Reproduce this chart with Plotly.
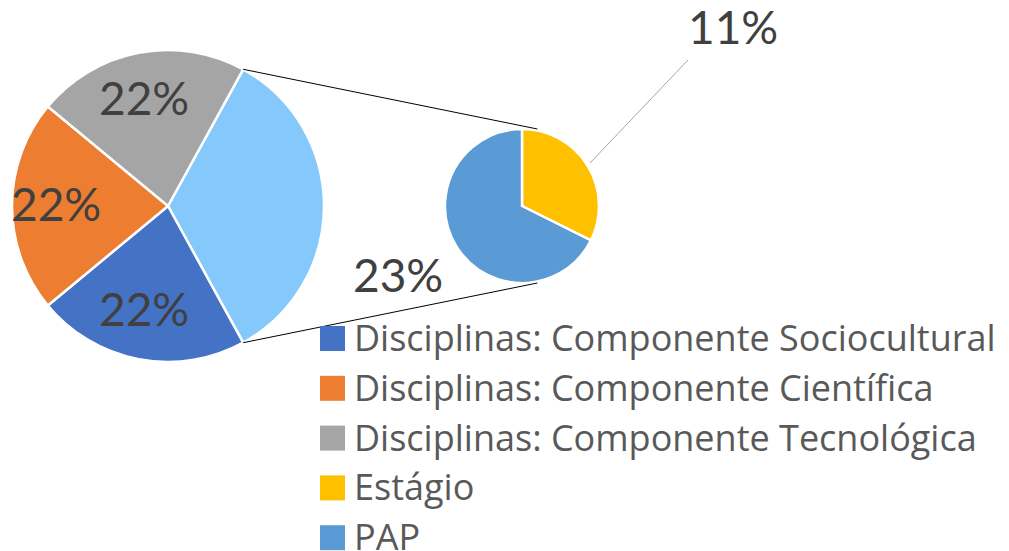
import math
import plotly.graph_objects as go

# ---- data ----
labels = ["Disciplinas: Componente Sociocultural",
          "Disciplinas: Componente Científica",
          "Disciplinas: Componente Tecnológica",
          "Estágio",
          "PAP"]
values = [22, 22, 22, 11, 23]
pct_labels = ["22%", "22%", "22%", "11%", "23%"]
colors = ["#4472C4", "#ED7D31", "#A5A5A5", "#FFC000", "#5B9BD5"]
other_color = "#85C8FC"

# ---- geometry (pixels) ----
W, H = 1009, 551
main_c = (168, 206)
main_R = 156
sub_c = (522, 206)
sub_R = 77
FONT = "Lato"
LEGEND_FONT = "Open Sans"
LABEL_SIZE = 46
LEGEND_SIZE = 36


def px(x):
    return x / W


def py(y):
    return 1 - y / H


other = values[3] + values[4]
main_vals = [other] + values[:3]
main_cols = [other_color] + colors[:3]
tot = sum(main_vals)
rot = 90 - other / tot * 180

fig = go.Figure()
cx, cy = main_c
fig.add_trace(go.Pie(
    values=main_vals, labels=["Outros"] + labels[:3],
    marker=dict(colors=main_cols, line=dict(color="white", width=2.5)),
    sort=False, direction="clockwise", rotation=rot,
    textinfo="none", hoverinfo="skip", showlegend=False,
    domain=dict(x=[px(cx - main_R), px(cx + main_R)], y=[py(cy + main_R), py(cy - main_R)])))

sx, sy = sub_c
fig.add_trace(go.Pie(
    values=values[3:], labels=labels[3:],
    marker=dict(colors=colors[3:], line=dict(color="white", width=2.5)),
    sort=False, direction="clockwise", rotation=0,
    textinfo="none", hoverinfo="skip", showlegend=False,
    domain=dict(x=[px(sx - sub_R), px(sx + sub_R)], y=[py(sy + sub_R), py(sy - sub_R)])))

annotations = []
shapes = []

# slice labels on the main pie
acc = other
for i in range(3):
    start = rot + 360 * acc / tot
    mid = math.radians(start + 180 * values[i] / tot)
    rl = 0.69 * main_R
    x = cx + rl * math.sin(mid) - 4
    y = cy - rl * math.cos(mid)
    annotations.append(dict(x=px(x), y=py(y), xref="paper", yref="paper", text=pct_labels[i],
                            showarrow=False, xanchor="center", yanchor="middle", yshift=3,
                            font=dict(family=FONT, size=LABEL_SIZE, color="#404040")))
    acc += values[i]

# labels of the secondary pie
annotations.append(dict(x=px(733), y=py(30), xref="paper", yref="paper", text=pct_labels[3],
                        showarrow=False, xanchor="center", yanchor="middle", yshift=3,
                        font=dict(family=FONT, size=LABEL_SIZE, color="#404040")))
annotations.append(dict(x=px(398), y=py(277), xref="paper", yref="paper", text=pct_labels[4],
                        showarrow=False, xanchor="center", yanchor="middle", yshift=3,
                        font=dict(family=FONT, size=LABEL_SIZE, color="#404040")))
shapes.append(dict(type="line", xref="paper", yref="paper",
                   x0=px(590), y0=py(163), x1=px(688), y1=py(60),
                   line=dict(color="#A6A6A6", width=1)))

# connector lines
a0 = math.radians(rot)
a1 = math.radians(rot + 360 * other / tot)
for a, sgn in ((a0, -1), (a1, 1)):
    shapes.append(dict(type="line", xref="paper", yref="paper",
                       x0=px(cx + main_R * math.sin(a)), y0=py(cy - main_R * math.cos(a)),
                       x1=px(sx + 0.2 * sub_R), y1=py(sy + sgn * sub_R),
                       line=dict(color="#000000", width=1)))

# legend
for i, lab in enumerate(labels):
    yc = 338.5 + 49.8 * i
    shapes.append(dict(type="rect", xref="paper", yref="paper",
                       x0=px(320), x1=px(345), y0=py(yc + 12.5), y1=py(yc - 12.5),
                       fillcolor=colors[i], line=dict(width=0)))
    annotations.append(dict(x=px(352), y=py(yc), xref="paper", yref="paper", text=lab,
                            showarrow=False, xanchor="left", yanchor="middle", yshift=1,
                            font=dict(family=LEGEND_FONT, size=LEGEND_SIZE, color="#595959")))

fig.update_layout(width=W, height=H, margin=dict(l=0, r=0, t=0, b=0),
                  paper_bgcolor="white", plot_bgcolor="white",
                  annotations=annotations, shapes=shapes, showlegend=False)

fig.write_html("out.html", config={"displayModeBar": False},
               post_script="document.body.style.margin='0';")
